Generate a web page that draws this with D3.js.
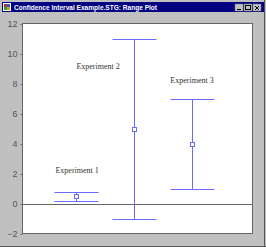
<!DOCTYPE html>
<html>
<head>
<meta charset="utf-8">
<script src="https://cdn.jsdelivr.net/npm/d3@7"></script>
<style>
  body { margin: 0; background: #c0c0c0; }
  svg { display: block; }
</style>
</head>
<body>
<svg id="drawing_region"></svg>
<script>
// experiment data
const experiments = ['Experiment 1', 'Experiment 2', 'Experiment 3'];
const lows = [0.2, -1, 1];
const highs = [0.8, 11, 7];
const means = [0.5, 5, 4];
// label anchor points (x index, y value)
const labelX = [1.02, 1.38, 3];
const labelY = [2.3, 9.2, 8.3];
const yTicks = [-2, 0, 2, 4, 6, 8, 10, 12];

const width = 266, height = 247;
const plot = { left: 23, top: 24, right: 253, bottom: 234 };

const svg = d3.select('#drawing_region')
    .attr('width', width)
    .attr('height', height);

// window frame
svg.append('rect')
    .attr('x', 0).attr('y', 0).attr('width', width).attr('height', height)
    .attr('fill', '#c0c0c0');
svg.append('line').attr('x1', 264.5).attr('x2', 264.5).attr('y1', 0).attr('y2', 247)
    .attr('stroke', '#555');
svg.append('line').attr('x1', 0).attr('x2', 266).attr('y1', 246.5).attr('y2', 246.5)
    .attr('stroke', '#555');

// title bar
svg.append('rect')
    .attr('x', 2).attr('y', 2).attr('width', 262).attr('height', 10)
    .attr('fill', '#000080');
const icon = svg.append('g').attr('transform', 'translate(3,3)');
icon.append('rect').attr('width', 8).attr('height', 8).attr('fill', '#fff');
icon.append('rect').attr('x', 1).attr('y', 1).attr('width', 3).attr('height', 3).attr('fill', '#c03030');
icon.append('rect').attr('x', 4).attr('y', 1).attr('width', 3).attr('height', 3).attr('fill', '#3060c0');
icon.append('rect').attr('x', 1).attr('y', 4).attr('width', 3).attr('height', 3).attr('fill', '#30a030');
icon.append('rect').attr('x', 4).attr('y', 4).attr('width', 3).attr('height', 3).attr('fill', '#d0a020');
svg.append('text')
    .attr('x', 14).attr('y', 10)
    .attr('fill', '#fff')
    .attr('font-family', 'Liberation Sans, Arial, sans-serif')
    .attr('font-weight', 'bold')
    .attr('font-size', 8)
    .attr('textLength', 143)
    .attr('lengthAdjust', 'spacingAndGlyphs')
    .text('Confidence Interval Example.STG: Range Plot');

// window buttons
const btns = svg.append('g');
[235, 244, 253].forEach((bx, i) => {
    btns.append('rect').attr('x', bx).attr('y', 4).attr('width', 8).attr('height', 7)
        .attr('fill', '#c0c0c0').attr('stroke', '#808080').attr('stroke-width', 0.5);
    if (i === 0) {
        btns.append('line').attr('x1', bx + 2).attr('x2', bx + 6).attr('y1', 9.5).attr('y2', 9.5).attr('stroke', '#000');
    } else if (i === 1) {
        btns.append('rect').attr('x', bx + 1.5).attr('y', 5.5).attr('width', 5).attr('height', 4)
            .attr('fill', 'none').attr('stroke', '#000').attr('stroke-width', 1);
    } else {
        btns.append('path').attr('d', `M${bx + 2},6 L${bx + 6},10 M${bx + 6},6 L${bx + 2},10`)
            .attr('stroke', '#000').attr('stroke-width', 1);
    }
});

// scales
const x = d3.scaleLinear().domain([0, 4]).range([18, 250]);
const y = d3.scaleLinear().domain([-2, 12]).range([plot.bottom, plot.top]);

// plot area
svg.append('rect')
    .attr('x', plot.left - 0.5).attr('y', plot.top - 0.5)
    .attr('width', plot.right - plot.left).attr('height', plot.bottom - plot.top)
    .attr('fill', '#fff')
    .attr('stroke', '#666');

// y axis
const yAxis = svg.append('g')
    .attr('transform', `translate(${plot.left - 0.5},0)`)
    .call(d3.axisLeft(y).tickValues(yTicks).tickSize(2).tickPadding(3));
yAxis.select('.domain').remove();
yAxis.selectAll('line').attr('stroke', '#666');
yAxis.selectAll('text')
    .attr('fill', '#555')
    .attr('font-family', 'Liberation Sans, Arial, sans-serif')
    .attr('font-size', 9);

// zero line
svg.append('line')
    .attr('x1', plot.left).attr('x2', plot.right - 1)
    .attr('y1', Math.round(y(0)) + 0.5).attr('y2', Math.round(y(0)) + 0.5)
    .attr('stroke', '#666');

// range bars
const capHalf = 22;
const blue = '#6a6aff';
const bars = svg.append('g');
experiments.forEach((name, i) => {
    const cx = Math.round(x(i + 1)) + 0.5;
    const yh = Math.round(y(highs[i])) + 0.5;
    const yl = Math.round(y(lows[i])) + 0.5;
    bars.append('line').attr('x1', cx).attr('x2', cx).attr('y1', yh).attr('y2', yl)
        .attr('stroke', blue);
    bars.append('line').attr('x1', cx - capHalf).attr('x2', cx + capHalf).attr('y1', yh).attr('y2', yh)
        .attr('stroke', blue);
    bars.append('line').attr('x1', cx - capHalf).attr('x2', cx + capHalf).attr('y1', yl).attr('y2', yl)
        .attr('stroke', blue);
    const ym = Math.round(y(means[i])) + 0.5;
    bars.append('rect').attr('x', cx - 2).attr('y', ym - 2).attr('width', 4).attr('height', 4)
        .attr('fill', '#fff').attr('stroke', blue);
});

// labels
svg.append('g').selectAll('text')
    .data(experiments)
    .join('text')
    .attr('x', (d, i) => x(labelX[i]))
    .attr('y', (d, i) => y(labelY[i]) + 3)
    .attr('text-anchor', 'middle')
    .attr('fill', '#333')
    .attr('font-family', 'Liberation Serif, Times New Roman, serif')
    .attr('font-size', 8)
    .text(d => d);
</script>
</body>
</html>
